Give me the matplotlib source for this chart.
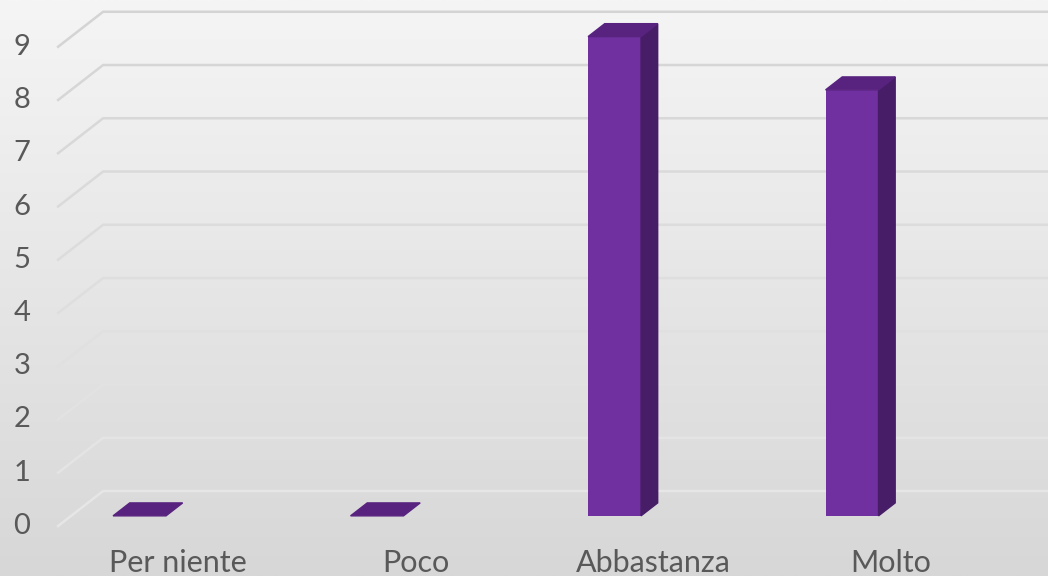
import numpy as np
import matplotlib
matplotlib.use("Agg")
import matplotlib.pyplot as plt
from matplotlib.patches import Polygon

categories = ["Per niente", "Poco", "Abbastanza", "Molto"]
values = [0, 0, 9, 8]
yticks = list(range(0, 10))

# pseudo-3D geometry (data units)
DX, DY = 0.1895, 0.657      # full floor depth offset
D0, D1 = 0.29, 0.66         # bar front / back depth fraction
W = 0.223                   # bar width
WALL_X = -0.288             # left wall front edge

FRONT = "#7030a0"
SIDE = "#471d68"
TOP = "#58237f"

fig = plt.figure(figsize=(10.48, 5.76), dpi=100)
ax = fig.add_axes([0, 0, 1, 1])
ax.set_xlim(-0.5326, 3.880)
ax.set_ylim(-0.939, 9.878)
ax.axis("off")

# background gradient
grad = np.linspace(0, 1, 256).reshape(-1, 1)
cmap = matplotlib.colors.LinearSegmentedColormap.from_list("bg", ["#d7d7d7", "#f5f5f5"])
ax.imshow(grad, cmap=cmap, aspect="auto", origin="lower",
          extent=[-0.5326, 3.880, -0.939, 9.878], zorder=0)

# gridlines: left wall diagonal + back wall horizontal
gcol = matplotlib.colors.LinearSegmentedColormap.from_list("g", ["#e6e6e6", "#d4d4d4"])
for v in yticks:
    ax.plot([WALL_X, WALL_X + DX, 3.880], [v, v + DY, v + DY],
            color=gcol(v / 9), lw=1.8, zorder=1)
    ax.text(-0.44, v, str(v), ha="center", va="center", fontsize=21,
            color="#595959", family="Lato")

xs = np.arange(len(categories))
xf = xs + D0 * DX
base = D0 * DY
dd = D1 - D0
ax.bar(xf, values, width=W, bottom=base, color=FRONT, zorder=3)
for x, v in zip(xf, values):
    xl, xr = x - W / 2, x + W / 2
    side = [(xr, base), (xr + dd * DX, base + dd * DY),
            (xr + dd * DX, base + v + dd * DY), (xr, base + v)]
    top = [(xl, base + v), (xr, base + v),
           (xr + dd * DX, base + v + dd * DY), (xl + dd * DX, base + v + dd * DY)]
    if v > 0:
        ax.add_patch(Polygon(side, closed=True, color=SIDE, zorder=3))
    ax.add_patch(Polygon(top, closed=True, color=TOP, zorder=3))

for x, c in zip(xs, categories):
    ax.text(x + 0.217, -0.695, c, ha="center", va="center", fontsize=22,
            color="#595959", family="Lato")

fig.savefig("out.png", dpi=100)
